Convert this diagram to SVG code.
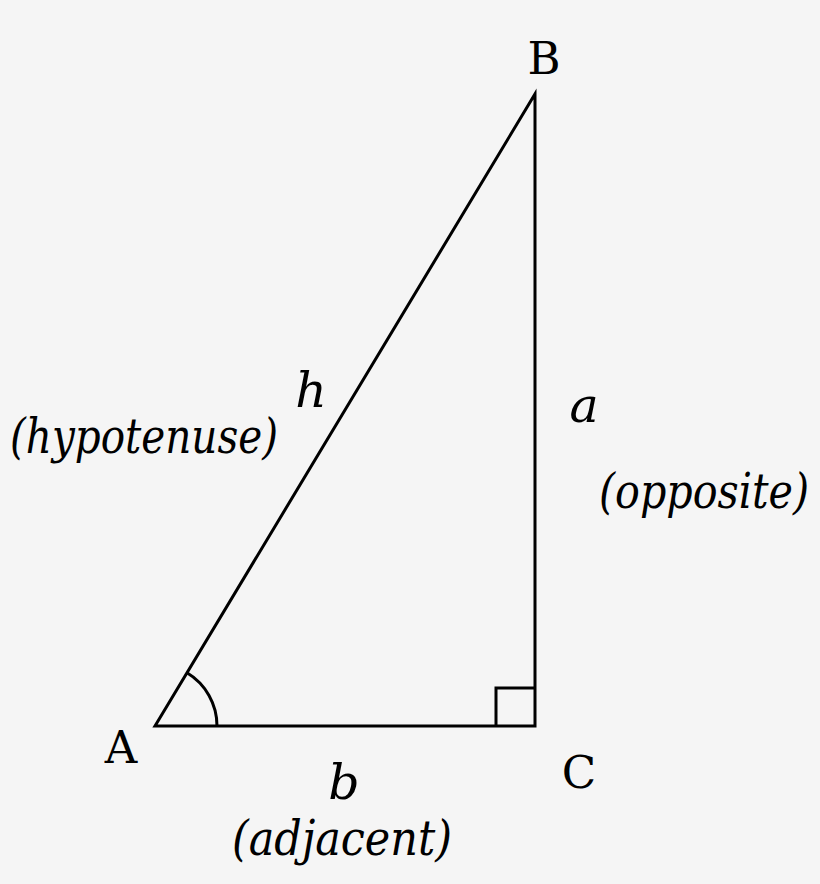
<svg xmlns="http://www.w3.org/2000/svg" width="820" height="884" viewBox="0 0 820 884">
<style>
.ln{fill:none;stroke:#000;stroke-width:3;stroke-linejoin:miter}
.v{font-family:"DejaVu Serif","Liberation Serif",serif;font-size:45px;fill:#000;text-anchor:middle}
.i{font-family:"DejaVu Serif","Liberation Serif",serif;font-style:italic;font-size:49px;fill:#000;text-anchor:middle}
</style>
<rect width="820" height="884" fill="#f5f5f5"/>
<g id="connectors">
<path class="ln" d="M155,726 L535,94 L535,726 Z"/>
<path class="ln" d="M496,726 L496,688 L535,688"/>
<path class="ln" d="M187,672.8 A62,62 0 0 1 217,726"/>
</g>
<g id="A"><text class="v" x="121" y="763">A</text></g>
<g id="B"><text class="v" x="544" y="74">B</text></g>
<g id="C"><text class="v" x="579" y="788">C</text></g>
<g id="hyp">
<text class="i" x="311" y="407">h</text>
<text class="i" x="144" y="453" textLength="268" lengthAdjust="spacingAndGlyphs">(hypotenuse)</text>
</g>
<g id="opp">
<text class="i" x="584" y="422">a</text>
<text class="i" x="704" y="508" textLength="210" lengthAdjust="spacingAndGlyphs">(opposite)</text>
</g>
<g id="adj">
<text class="i" x="344" y="799">b</text>
<text class="i" x="342" y="855" textLength="220" lengthAdjust="spacingAndGlyphs">(adjacent)</text>
</g>
</svg>
